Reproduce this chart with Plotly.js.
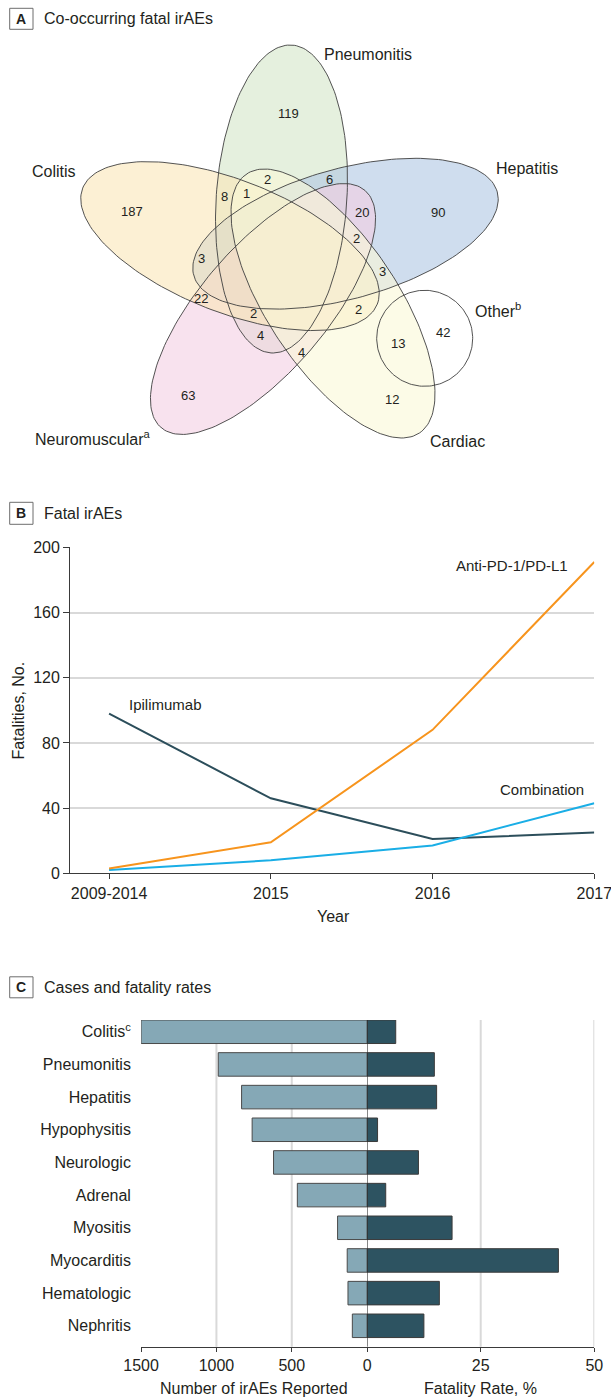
<!DOCTYPE html>
<html><head><meta charset="utf-8">
<script src="https://cdn.plot.ly/plotly-3.0.1.min.js"></script>
<style>html,body{margin:0;padding:0;background:#fff;}#chart{width:611px;height:1398px;}</style>
</head><body><div id="chart"></div>
<script>
// ---------------- DATA ----------------
// Panel A: five-set Venn of co-occurring fatal irAEs
const vennSets = ['Colitis','Pneumonitis','Hepatitis','Cardiac','Neuromuscular'];
const vennSetLabels = ['Colitis','Pneumonitis','Hepatitis','Cardiac','Neuromuscular<sup>a</sup>','Other<sup>b</sup>'];
const vennRegionCounts = [119,187,90,2,6,8,1,20,2,3,3,22,2,2,4,4,13,42,63,12];

// Panel B: fatal irAEs by year
const years = ['2009-2014','2015','2016','2017'];
const antiPD1 = [3,19,88,191];
const ipilimumab = [98,46,21,25];
const combination = [2,8,17,43];
const yTicksB = [0,40,80,120,160,200];

// Panel C: cases and fatality rates
const irAECategories = ['Colitis','Pneumonitis','Hepatitis','Hypophysitis','Neurologic','Adrenal','Myositis','Myocarditis','Hematologic','Nephritis'];
const irAETickText = ['Colitis<sup>c</sup>','Pneumonitis','Hepatitis','Hypophysitis','Neurologic','Adrenal','Myositis','Myocarditis','Hematologic','Nephritis'];
const casesReported = [1500,988,833,763,621,463,196,132,127,98];
const fatalityRate = [6.3,14.8,15.3,2.3,11.3,4.1,18.7,42.1,15.9,12.5];
const casesTicks = [1500,1000,500,0];
const rateTicks = [25,50];

// ---------------- GEOMETRY / STYLE ----------------
const W=611,H=1398;
const px=x=>x/W, py=y=>1-y/H;
const TXT='#231f20';
const FONT='"Liberation Sans", Arial, sans-serif';

// ellipse geometry (pixel frame of panel A): cx, cy, semi-major, semi-minor, angle(deg)
const vennGeom = {
  Colitis:[230,246.1,158.3,66.0,21.5],
  Pneumonitis:[281.5,199,154.3,65.3,93.9],
  Hepatitis:[345.5,233.7,157.4,65.1,-15.4],
  Cardiac:[333,303.5,155.7,65.2,56.3],
  Neuromuscular:[263,309,156.4,62.8,-49.3]
};
const vennFill = {
  Colitis:'rgba(250,230,183,0.6)',
  Pneumonitis:'rgba(212,230,200,0.6)',
  Hepatitis:'rgba(175,198,227,0.6)',
  Cardiac:'rgba(250,248,215,0.6)',
  Neuromuscular:'rgba(243,207,227,0.6)'
};
const fillOrder = ['Pneumonitis','Hepatitis','Neuromuscular','Colitis','Cardiac'];
const otherCircle = [424.7,338.3,48];
const vennRegionPos = [[288.4,113.3],[131.7,211.7],[438.4,212],[267,179.2],[329,179.5],[224,196.7],[246,193.6],[361.7,212.5],[356.8,238.3],[201.2,258.8],[382.7,271.2],[201.2,298.5],[253,313.3],[358.4,309.2],[260.2,336],[301.5,352.5],[398.3,343],[443.4,332.2],[188.3,396],[391.7,399.5]];
const vennLabelPos = [[30.4,171.7],[321.7,54],[494,168.3],[428.3,441.7],[33,438.3],[472.7,310]];

function ellipse(g,n=180){
  const [cx,cy,a,b,ang]=g; const f=ang*Math.PI/180; const xs=[],ys=[];
  for(let i=0;i<=n;i++){const t=2*Math.PI*i/n;
    xs.push(cx+a*Math.cos(f)*Math.cos(t)-b*Math.sin(f)*Math.sin(t));
    ys.push(cy+a*Math.sin(f)*Math.cos(t)+b*Math.cos(f)*Math.sin(t));}
  return {xs,ys};
}

const traces=[];
fillOrder.forEach(s=>{const e=ellipse(vennGeom[s]);
  traces.push({type:'scatter',mode:'lines',x:e.xs,y:e.ys,xaxis:'x3',yaxis:'y3',fill:'toself',fillcolor:vennFill[s],line:{width:0},hoverinfo:'skip',showlegend:false});});
vennSets.forEach(s=>{const e=ellipse(vennGeom[s]);
  traces.push({type:'scatter',mode:'lines',x:e.xs,y:e.ys,xaxis:'x3',yaxis:'y3',line:{color:'#404040',width:0.9},hoverinfo:'skip',showlegend:false});});
{const e=ellipse([otherCircle[0],otherCircle[1],otherCircle[2],otherCircle[2],0]);
 traces.push({type:'scatter',mode:'lines',x:e.xs,y:e.ys,xaxis:'x3',yaxis:'y3',line:{color:'#404040',width:0.9},hoverinfo:'skip',showlegend:false});}

// Panel B lines
traces.push({type:'scatter',mode:'lines',x:years,y:ipilimumab,line:{color:'#2c4e5b',width:2},xaxis:'x',yaxis:'y',showlegend:false});
traces.push({type:'scatter',mode:'lines',x:years,y:combination,line:{color:'#1aaee6',width:2},xaxis:'x',yaxis:'y',showlegend:false});
traces.push({type:'scatter',mode:'lines',x:years,y:antiPD1,line:{color:'#f7941d',width:2},xaxis:'x',yaxis:'y',showlegend:false});

// Panel C bars
traces.push({type:'bar',orientation:'h',y:irAECategories,x:casesReported,xaxis:'x2',yaxis:'y2',width:0.72,
  marker:{color:'#85a8b6',line:{color:'#4a4a4a',width:1}},showlegend:false});
traces.push({type:'bar',orientation:'h',y:irAECategories,x:fatalityRate,xaxis:'x4',yaxis:'y2',width:0.72,
  marker:{color:'#2d5361',line:{color:'#3a3a3a',width:1}},showlegend:false});

// ---------------- ANNOTATIONS ----------------
const ann=[];
function A(text,x,y,opt={}){ann.push(Object.assign({text,x:px(x),y:py(y),xref:'paper',yref:'paper',showarrow:false,
  xanchor:'center',yanchor:'middle',font:{family:FONT,size:16,color:TXT}},opt));}
// section letters and titles
[['A',18.7,'Co-occurring fatal irAEs'],['B',513.3,'Fatal irAEs'],['C',987.3,'Cases and fatality rates']].forEach(([l,y,t])=>{
  A('<b>'+l+'</b>',21.4,y,{font:{family:FONT,size:14,color:TXT}});
  A(t,41.7,y,{xanchor:'left'});
});
vennRegionCounts.forEach((c,i)=>A(String(c),vennRegionPos[i][0],vennRegionPos[i][1],{font:{family:FONT,size:13,color:TXT}}));
vennSetLabels.forEach((l,i)=>A(l,vennLabelPos[i][0],vennLabelPos[i][1],{xanchor:'left'}));
// panel B labels
A('Anti-PD-1/PD-L1',570,565.7,{xanchor:'right',font:{family:FONT,size:15,color:TXT}});
A('Ipilimumab',126.7,704.3,{xanchor:'left',font:{family:FONT,size:15,color:TXT}});
A('Combination',585.7,790,{xanchor:'right',font:{family:FONT,size:15,color:TXT}});
A('Year',333,916.7);
A('Fatalities, No.',18.3,710.3,{textangle:-90});
// panel C axis titles
A('Number of irAEs Reported',254,1388.3);
A('Fatality Rate, %',480.7,1388.3);

// ---------------- SHAPES ----------------
const shapes=[];
[[8.3,29.3],[502.3,524.3],[976.8,997.8]].forEach(([y0,y1])=>shapes.push({type:'rect',xref:'paper',yref:'paper',
  x0:px(9.7),x1:px(33),y0:py(y1),y1:py(y0),line:{color:'#6d6d6d',width:1}}));
const cTop=1020, cBot=1346.7;
casesTicks.filter(v=>v!==0&&v!==1500).forEach(v=>shapes.push({type:'line',xref:'x2',yref:'paper',x0:v,x1:v,y0:py(cBot),y1:py(cTop),line:{color:'#d9d9d9',width:2},layer:'below'}));
rateTicks.forEach(v=>shapes.push({type:'line',xref:'x4',yref:'paper',x0:v,x1:v,y0:py(cBot),y1:py(cTop),line:{color:'#d9d9d9',width:2},layer:'below'}));
shapes.push({type:'line',xref:'x4',yref:'paper',x0:0,x1:0,y0:py(cBot),y1:py(cTop),line:{color:'#1e1e1e',width:1},layer:'above'});

// ---------------- LAYOUT ----------------
const tickfont={family:FONT,size:16,color:TXT};
const layout={
  width:W,height:H,margin:{l:0,r:0,t:0,b:0},paper_bgcolor:'#fff',plot_bgcolor:'rgba(0,0,0,0)',
  font:{family:FONT,color:TXT},showlegend:false,
  xaxis3:{domain:[0,1],range:[0,W],visible:false,anchor:'y3',fixedrange:true},
  yaxis3:{domain:[py(470),1],range:[470,0],visible:false,anchor:'x3',fixedrange:true},
  xaxis:{domain:[px(70.1),px(594.3)],anchor:'y',type:'category',categoryarray:years,range:[-0.241,3],
    showline:true,linecolor:'#3a3a3a',linewidth:1,ticks:'outside',ticklen:5,tickcolor:'#3a3a3a',showgrid:false,tickfont},
  yaxis:{domain:[py(873.3),py(547.3)],anchor:'x',range:[0,200],tickvals:yTicksB,showgrid:true,gridcolor:'#d9d9d9',gridwidth:2,
    zeroline:false,showline:true,linecolor:'#3a3a3a',linewidth:1,ticks:'outside',ticklen:6,tickcolor:'#3a3a3a',tickfont},
  yaxis2:{domain:[py(cBot),py(cTop)],anchor:'x2',type:'category',categoryarray:irAECategories,range:[9.64,-0.36],
    tickvals:irAECategories,ticktext:irAETickText,showline:false,showgrid:false,zeroline:false,ticks:'outside',ticklen:6,tickcolor:'rgba(0,0,0,0)',tickfont},
  xaxis2:{domain:[px(141.1),px(367.1)],anchor:'y2',range:[1500,0],tickvals:casesTicks,showgrid:false,zeroline:false,
    showline:true,linecolor:'#3a3a3a',linewidth:1,ticks:'outside',ticklen:4,tickcolor:'#3a3a3a',tickfont},
  xaxis4:{domain:[px(367.1),px(594.3)],anchor:'y2',range:[0,50],tickvals:rateTicks,showgrid:false,zeroline:false,
    showline:true,linecolor:'#3a3a3a',linewidth:1,ticks:'outside',ticklen:4,tickcolor:'#3a3a3a',tickfont},
  annotations:ann,shapes:shapes,bargap:0.28
};
Plotly.newPlot('chart',traces,layout,{staticPlot:true,displayModeBar:false});
</script></body></html>
